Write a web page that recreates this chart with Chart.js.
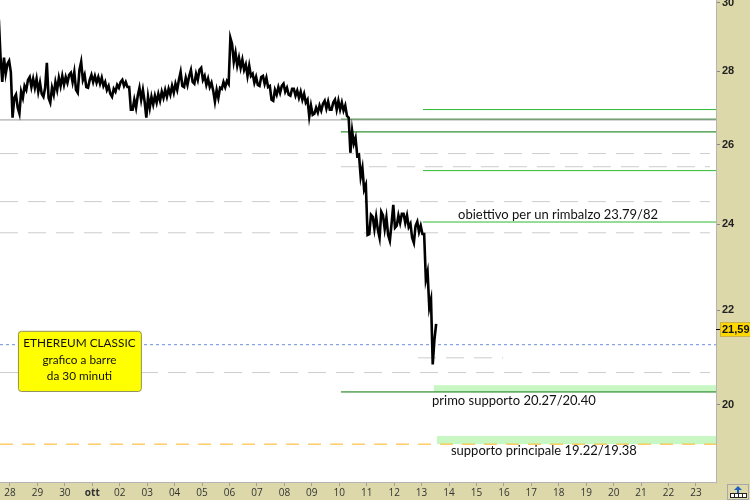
<!DOCTYPE html>
<html>
<head>
<meta charset="utf-8">
<script src="https://cdn.jsdelivr.net/npm/chart.js@4.4.0/dist/chart.umd.min.js"></script>
<style>
  body { margin: 0; background: #fff; }
  #wrap { width: 750px; height: 500px; }
</style>
</head>
<body>
<div id="wrap"><canvas id="chart" width="750" height="500"></canvas></div>
<script>
// etichette asse x: un tick per giorno, dal 28 settembre al 23 ottobre
const dayLabels = ['28','29','30','ott','02','03','04','05','06','07','08','09','10','11',
                   '12','13','14','15','16','17','18','19','20','21','22','23'];
const yTicks = [20, 22, 24, 26, 28, 30];

// barre a 3 ore (massimi / minimi), prima barra 27 set ore 15
const barStart = -0.375;
const barStep = 1 / 8;
const highs = [
  29.50, 28.39, 28.21, 28.30, 27.26, 27.35, 27.43, 27.59, 27.76, 27.84,
  27.79, 27.79, 27.68, 27.54, 28.24, 27.54, 27.70, 27.82, 27.87, 27.84,
  27.90, 27.96, 27.98, 28.04, 28.27, 27.90, 27.76, 27.90, 27.87, 27.84,
  27.82, 27.70, 27.59, 27.51, 27.62, 27.70, 27.76, 27.70, 27.56, 27.21,
  27.32, 27.54, 27.48, 27.29, 27.29, 27.32, 27.37, 27.43, 27.48, 27.51,
  27.59, 27.65, 27.76, 27.98, 27.82, 27.87, 28.04, 27.93, 28.04, 28.10,
  27.87, 27.79, 27.68, 27.48, 27.54, 27.70, 27.73, 28.96, 28.78, 28.53,
  28.39, 28.33, 28.19, 28.16, 27.93, 27.84, 27.84, 27.87, 27.82, 27.59,
  27.48, 27.56, 27.59, 27.65, 27.54, 27.51, 27.51, 27.46, 27.43, 27.37,
  27.21, 27.05, 26.99, 27.05, 27.10, 27.18, 27.16, 27.13, 27.21, 27.18,
  27.13, 27.05, 26.72, 26.37, 26.18, 25.74, 25.40, 24.97, 24.23, 24.18,
  24.18, 24.30, 24.21, 24.16, 24.01, 24.47, 24.21, 24.25, 24.25, 24.21,
  24.01, 23.96, 24.06, 23.96, 23.76, 22.87, 22.24, 21.70
];
const lows = [
  28.40, 27.70, 27.93, 27.98, 26.72, 26.99, 26.83, 27.26, 27.48, 27.56,
  27.54, 27.43, 27.37, 27.29, 27.26, 27.13, 27.35, 27.48, 27.59, 27.62,
  27.68, 27.70, 27.48, 27.40, 27.76, 27.56, 27.54, 27.70, 27.68, 27.65,
  27.59, 27.48, 27.37, 27.29, 27.43, 27.54, 27.59, 27.56, 26.94, 26.94,
  26.99, 27.21, 27.16, 26.72, 26.99, 27.08, 27.13, 27.18, 27.26, 27.29,
  27.35, 27.40, 27.48, 27.59, 27.56, 27.62, 27.70, 27.65, 27.76, 27.76,
  27.62, 27.56, 27.46, 27.16, 27.26, 27.51, 27.56, 27.65, 28.27, 28.16,
  28.10, 28.04, 27.87, 27.87, 27.68, 27.62, 27.59, 27.65, 27.56, 27.21,
  27.18, 27.35, 27.40, 27.43, 27.35, 27.32, 27.32, 27.26, 27.21, 27.13,
  26.75, 26.80, 26.83, 26.86, 26.91, 26.97, 26.94, 26.94, 26.94, 26.94,
  26.91, 26.77, 25.79, 26.03, 25.71, 25.17, 24.85, 23.74, 23.76, 23.88,
  23.86, 23.67, 23.88, 23.74, 23.60, 23.91, 23.96, 24.03, 24.03, 23.93,
  23.67, 23.55, 23.81, 23.76, 22.69, 22.06, 20.83, 21.36
];
const lastPrice = 21.59;

// livelli orizzontali (prezzo, giorno di inizio, giorno di fine)
const xMin = -0.364, xMax = 25.73;
const greyLine = 26.66;
const darkGreenLevels = [26.68, 26.34, 20.26];
const darkGreenFrom = 12.06;
const greenLevels = [26.94, 25.33, 24.05];
const greenFrom = 15.05;
const dashLevels = [25.77, 25.43, 24.55, 23.79, 20.66, 20.97];
const dashFrom = [xMin, 12.06, xMin, xMin, xMin, 14.87];
const dashTo = [25.51, 25.51, 25.51, 25.51, 25.51, 17.97];
const lastCloseLine = 21.25;
const mainSupport = 19.22;

// fasce di supporto
const bandLow = [20.27, 19.22];
const bandHigh = [20.40, 19.38];
const bandFrom = [15.45, 15.56];

// note sul grafico
const notes = ['obiettivo per un rimbalzo 23.79/82', 'primo supporto 20.27/20.40', 'supporto principale 19.22/19.38'];
const noteX = [16.33, 15.38, 16.07];
const noteY = [24.23, 20.08, 19.09];
const boxLines = ['ETHEREUM CLASSIC', 'grafico a barre', 'da 30 minuti'];

function level(price, from, to, color, dash) {
  return {
    type: 'line',
    data: [{ x: from, y: price }, { x: to, y: price }],
    borderColor: color,
    borderWidth: 1,
    borderDash: dash || [],
    pointRadius: 0,
    fill: false,
    order: 1
  };
}

// ogni barra diventa un tratto min->max (o max->min) nel verso del movimento
const pricePath = [];
highs.forEach((h, i) => {
  const t = barStart + i * barStep;
  const mid = (h + lows[i]) / 2;
  const next = i < highs.length - 1 ? (highs[i + 1] + lows[i + 1]) / 2 : lastPrice;
  const pair = next >= mid ? [lows[i], h] : [h, lows[i]];
  pricePath.push({ x: t - barStep / 4, y: pair[0] }, { x: t + barStep / 4, y: pair[1] });
});

const datasets = [{
  type: 'line',
  data: pricePath,
  borderColor: '#000',
  borderWidth: 2.6,
  pointRadius: 0,
  tension: 0,
  fill: false,
  order: 0
}];
datasets.push(level(greyLine, xMin, xMax, '#9a9a9a'));
dashLevels.forEach((p, i) => datasets.push(level(p, dashFrom[i], dashTo[i], '#cccccc', [18, 10])));
darkGreenLevels.forEach(p => datasets.push(level(p, darkGreenFrom, xMax, '#007400')));
greenLevels.forEach(p => datasets.push(level(p, greenFrom, xMax, '#2fb82f')));
datasets.push(level(lastCloseLine, xMin, xMax, '#6f8fe0', [3, 3]));
datasets.push(level(mainSupport, xMin, xMax, '#ffb21e', [13, 9]));

const decor = {
  id: 'decor',
  beforeDraw(chart) {
    const { ctx, chartArea: a } = chart;
    ctx.save();
    ctx.fillStyle = '#dcd8a9';
    ctx.fillRect(0, 0, chart.width, chart.height);
    ctx.fillStyle = '#fff';
    ctx.fillRect(a.left, a.top, a.right - a.left, a.bottom - a.top);
    ctx.restore();
  },
  beforeDatasetsDraw(chart) {
    const { ctx, chartArea: a, scales: { x, y } } = chart;
    ctx.save();
    ctx.fillStyle = '#c9f7c4';
    bandLow.forEach((lo, i) => {
      const x0 = x.getPixelForValue(bandFrom[i]);
      const y0 = y.getPixelForValue(bandHigh[i]);
      const y1 = y.getPixelForValue(lo);
      ctx.fillRect(x0, y0, a.right - x0, y1 - y0);
    });
    ctx.restore();
  },
  afterDatasetsDraw(chart) {
    const { ctx, scales: { x, y } } = chart;
    ctx.save();
    ctx.fillStyle = '#111';
    ctx.font = '13px Lato';
    ctx.textBaseline = 'middle';
    ctx.textAlign = 'left';
    notes.forEach((t, i) => ctx.fillText(t, x.getPixelForValue(noteX[i]), y.getPixelForValue(noteY[i])));

    // riquadro giallo
    const bx0 = x.getPixelForValue(0.29), bx1 = x.getPixelForValue(4.77);
    const by0 = y.getPixelForValue(21.55), by1 = y.getPixelForValue(20.28);
    ctx.beginPath();
    ctx.roundRect(bx0 + 0.5, by0 + 0.5, bx1 - bx0, by1 - by0, 3);
    ctx.fillStyle = '#ffff00';
    ctx.fill();
    ctx.strokeStyle = '#8f8f60';
    ctx.lineWidth = 1;
    ctx.stroke();
    ctx.fillStyle = '#111';
    ctx.font = '11.8px Lato';
    ctx.textAlign = 'center';
    const cx = x.getPixelForValue(2.53);
    [21.29, 20.93, 20.59].forEach((p, i) => ctx.fillText(boxLines[i], cx, y.getPixelForValue(p)));
    ctx.restore();
  },
  afterDraw(chart) {
    const { ctx, chartArea: a, scales: { y } } = chart;
    ctx.save();
    // etichetta ultimo prezzo
    const py = Math.round(y.getPixelForValue(lastPrice));
    ctx.strokeStyle = '#000';
    ctx.beginPath();
    ctx.moveTo(a.right, py + 0.5);
    ctx.lineTo(a.right + 4, py + 0.5);
    ctx.stroke();
    ctx.fillStyle = '#ffd800';
    ctx.fillRect(a.right + 4, py - 7, 34, 15);
    ctx.strokeStyle = '#cdb24a';
    ctx.strokeRect(a.right + 4.5, py - 6.5, 34, 14);
    ctx.fillStyle = '#111';
    ctx.font = 'bold 11px "Liberation Sans"';
    ctx.textBaseline = 'middle';
    ctx.textAlign = 'left';
    ctx.fillText(lastPrice.toFixed(2).replace('.', ','), a.right + 6, py + 1);

    // icona in basso a destra
    ctx.strokeStyle = '#a8a8a8';
    ctx.strokeRect(727.5, 484.5, 21, 15);
    ctx.fillStyle = '#1f5fbf';
    ctx.beginPath();
    ctx.moveTo(738, 486); ctx.lineTo(742, 490); ctx.lineTo(734, 490); ctx.closePath();
    ctx.fill();
    ctx.fillRect(737, 490, 2, 3);
    ctx.fillStyle = '#222';
    ctx.fillRect(730, 493, 17, 5);
    ctx.fillStyle = '#fff';
    for (let k = 0; k < 4; k++) ctx.fillRect(731 + k * 4, 494, 3, 3);
    ctx.restore();
  }
};

new Chart(document.getElementById('chart'), {
  type: 'line',
  data: { datasets },
  options: {
    responsive: false,
    animation: false,
    events: [],
    layout: { padding: 0, autoPadding: false },
    plugins: { legend: { display: false }, tooltip: { enabled: false } },
    scales: {
      x: {
        type: 'linear',
        position: 'bottom',
        min: xMin,
        max: xMax,
        offset: false,
        grid: { drawOnChartArea: false, offset: false, tickLength: 4, color: '#a0a0a0' },
        border: { color: '#b4b4b4' },
        ticks: {
          autoSkip: false,
          maxRotation: 0,
          padding: 1,
          color: '#333',
          font: c => ({ family: 'Open Sans', size: 10, weight: dayLabels[c.index] === 'ott' ? 'bold' : 'normal' }),
          callback: v => dayLabels[Math.round(v)] ?? ''
        },
        afterBuildTicks: s => { s.ticks = dayLabels.map((_, i) => ({ value: i })); },
        afterFit: s => { s.height = 18; s.paddingLeft = 0; s.paddingRight = 0; }
      },
      y: {
        type: 'logarithmic',
        position: 'right',
        min: 18.5,
        max: 30.09,
        grid: { drawOnChartArea: false, tickLength: 4, color: '#888' },
        border: { color: '#b4b4b4' },
        ticks: {
          padding: 2,
          color: '#222',
          font: { family: 'Liberation Sans', size: 11, weight: 'bold' },
          callback: v => String(v)
        },
        afterBuildTicks: s => { s.ticks = yTicks.map(v => ({ value: v })); },
        afterFit: s => { s.width = 34; s.paddingTop = 0; s.paddingBottom = 0; }
      }
    }
  },
  plugins: [decor]
});
</script>
</body>
</html>
